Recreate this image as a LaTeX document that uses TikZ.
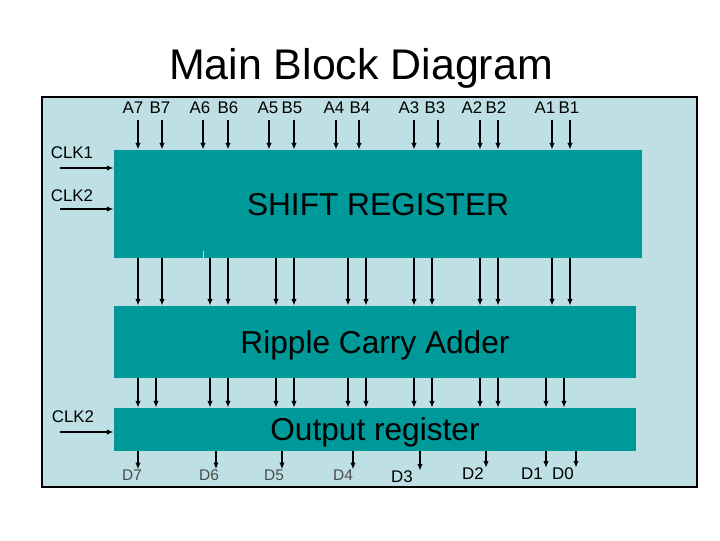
\documentclass[tikz,border=0pt]{standalone}
\usepackage{fontspec}
\setmainfont{Liberation Sans}
\usetikzlibrary{arrows.meta}

\definecolor{panelblue}{RGB}{190,224,228}
\definecolor{blockteal}{RGB}{0,153,153}

\begin{document}
\begin{tikzpicture}[
    x=0.025cm, y=-0.025cm,
    >={Latex[length=4.8pt,width=3.8pt]},
    box style/.style={rectangle, fill=blockteal, inner sep=0pt, text depth=0pt, font=\fontsize{22.5}{26}\selectfont},
    label style/.style={inner sep=0pt, font=\fontsize{12}{14}\selectfont},
    dim label style/.style={label style, text=black!70, font=\fontsize{11}{13}\selectfont},
    arrow style/.style={line width=1pt, black, ->}
]
\useasboundingbox (0,0) rectangle (720,540);

% Draw the background panel and the title
\draw[fill=panelblue, line width=0.8pt] (42,97) rectangle (697,487);
\node[font=\fontsize{30.5}{34}\selectfont] (title) at (361,68) {Main Block Diagram};

% Draw the three blocks
\node[box style, minimum width=13.2cm, minimum height=2.7cm] (sr) at (378,204) {SHIFT REGISTER};
\node[box style, minimum width=13.05cm, minimum height=1.8cm] (rca) at (375,342) {Ripple Carry Adder};
\node[box style, minimum width=13.05cm, minimum height=1.075cm] (oreg) at (375,429.5) {Output register};
\draw[panelblue, line width=0.6pt] (203,251) -- (203,0 |- sr.south);

% Inputs into the shift register
\foreach \lab/\lx/\ax in {A7/133/138, B7/160/162, A6/200/203, B6/228/228,
                          A5/268/269, B5/292/294, A4/334/336, B4/360/359,
                          A3/409/414, B3/435/438, A2/472/480, B2/496/498,
                          A1/545/552, B1/569/570} {
    \node[label style] (\lab) at (\lx,108) {\lab};
    \draw[arrow style, shorten <=4pt] (\ax,0 |- \lab.south) -- (\ax,0 |- sr.north);
}

% Clock inputs
\node[label style] (clk1) at (72,153) {CLK1};
\node[label style] (clk2) at (72,196) {CLK2};
\node[label style] (clk3) at (73,417) {CLK2};
\coordinate (clk1 in) at (60,168);
\coordinate (clk2 in) at (60,209);
\coordinate (clk3 in) at (60,432);
\draw[arrow style] (clk1 in) -- (clk1 in -| sr.west);
\draw[arrow style] (clk2 in) -- (clk2 in -| sr.west);
\draw[arrow style] (clk3 in) -- (clk3 in -| oreg.west);

% Shift register to adder
\foreach \x in {138,162,210,228,276,294,348,366,414,432,480,498,552,570} {
    \draw[arrow style] (\x,0 |- sr.south) -- (\x,0 |- rca.north);
}

% Adder to output register
\foreach \x in {138,156,210,228,276,294,348,366,414,432,480,498,546,564} {
    \draw[arrow style] (\x,0 |- rca.south) -- (\x,0 |- oreg.north);
}

% Outputs
\foreach \lab/\lx/\ly/\ax in {D7/132/475/138, D6/209/475/216, D5/274/475/282, D4/343/475/353} {
    \node[dim label style] (\lab) at (\lx,\ly) {\lab};
    \draw[arrow style] (\ax,0 |- oreg.south) -- (\ax,0 |- \lab.north);
}
\foreach \lab/\lx/\ly/\ax in {D3/402/477/420, D2/473/474/486, D1/532/474/546, D0/563/474/576} {
    \node[label style] (\lab) at (\lx,\ly) {\lab};
    \draw[arrow style] (\ax,0 |- oreg.south) -- (\ax,0 |- \lab.north);
}
\end{tikzpicture}
\end{document}
